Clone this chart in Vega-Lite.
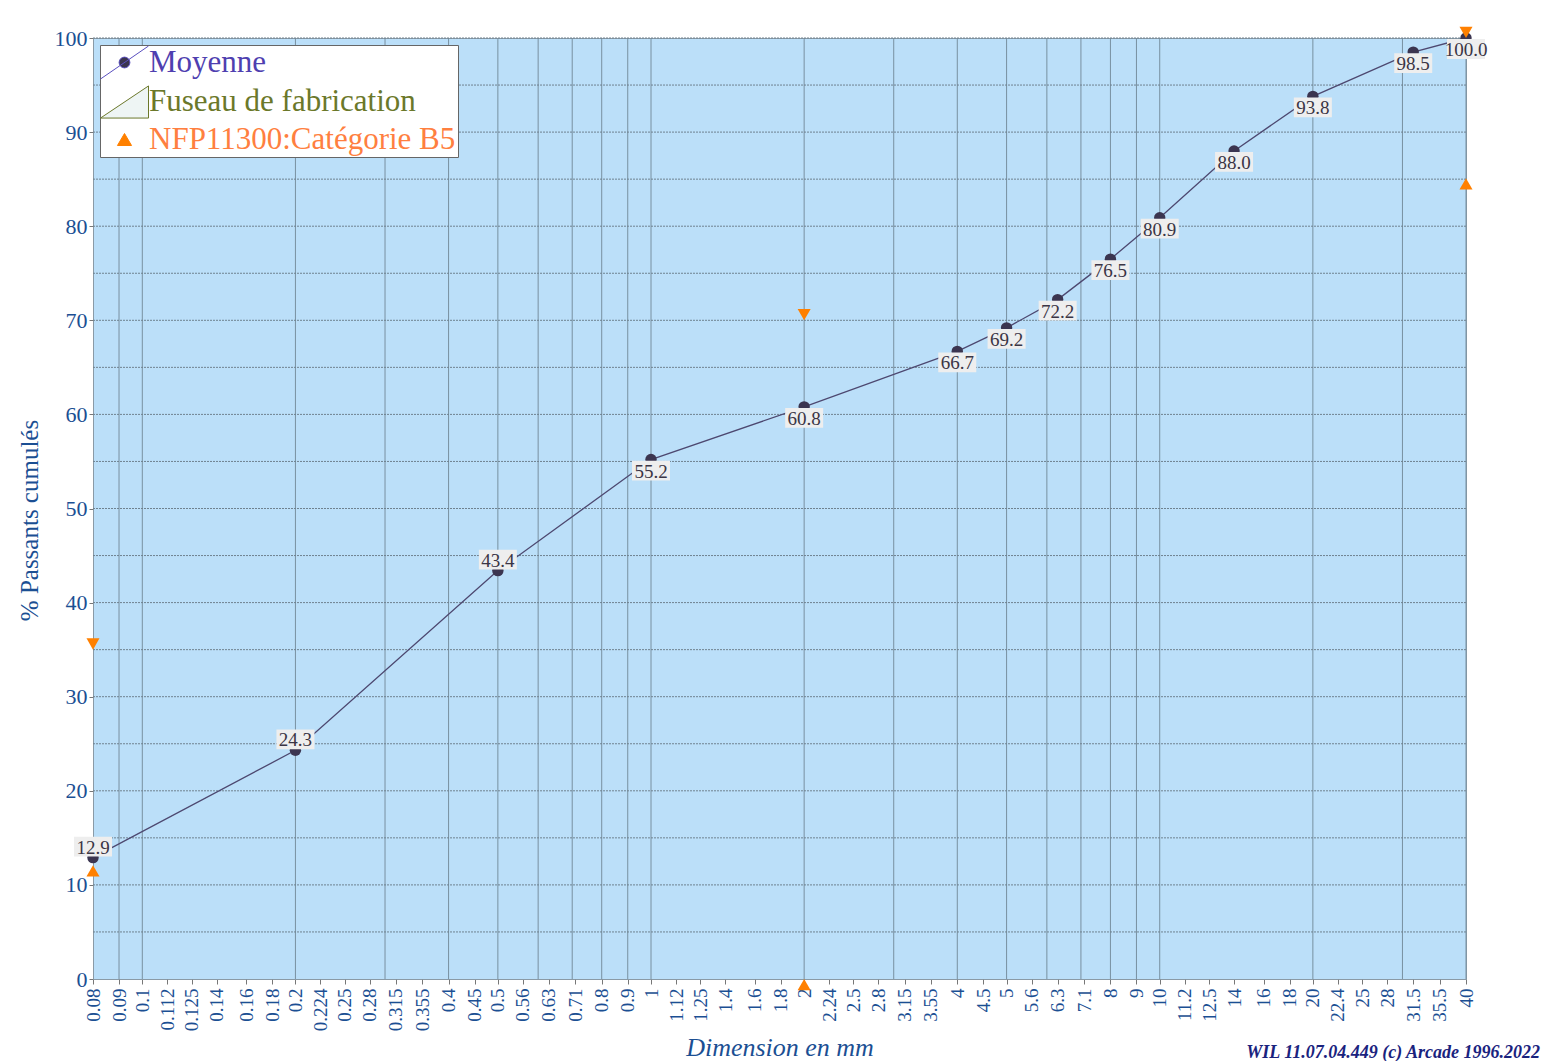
{
  "$schema": "https://vega.github.io/schema/vega-lite/v6.json",
  "width": 1373,
  "height": 941,
  "autosize": "none",
  "padding": {"left": 93, "top": 38, "right": 77, "bottom": 82},
  "background": "white",
  "config": {
    "view": {"fill": "#bbdff9", "stroke": "#8a9aa6", "strokeWidth": 1},
    "font": "Liberation Serif"
  },
  "title": {
    "text": "WIL 11.07.04.449 (c) Arcade 1996.2022",
    "orient": "bottom",
    "anchor": "end",
    "frame": "group",
    "dx": 74,
    "offset": -17,
    "font": "Liberation Serif",
    "fontSize": 18,
    "fontStyle": "italic",
    "fontWeight": "bold",
    "color": "#1a237e"
  },
  "datasets": {
    "moy": [
      {"d": 0.08, "p": 12.9, "t": "12.9"},
      {"d": 0.2, "p": 24.3, "t": "24.3"},
      {"d": 0.5, "p": 43.4, "t": "43.4"},
      {"d": 1, "p": 55.2, "t": "55.2"},
      {"d": 2, "p": 60.8, "t": "60.8"},
      {"d": 4, "p": 66.7, "t": "66.7"},
      {"d": 5, "p": 69.2, "t": "69.2"},
      {"d": 6.3, "p": 72.2, "t": "72.2"},
      {"d": 8, "p": 76.5, "t": "76.5"},
      {"d": 10, "p": 80.9, "t": "80.9"},
      {"d": 14, "p": 88.0, "t": "88.0"},
      {"d": 20, "p": 93.8, "t": "93.8"},
      {"d": 31.5, "p": 98.5, "t": "98.5"},
      {"d": 40, "p": 100.0, "t": "100.0"}
    ],
    "lower": [
      {"d": 0.08, "p": 11.5},
      {"d": 2, "p": -0.6},
      {"d": 40, "p": 84.5}
    ],
    "upper": [
      {"d": 0.08, "p": 35.6},
      {"d": 2, "p": 70.6},
      {"d": 40, "p": 100.6}
    ],
    "vgrid": [
      {"g": 0.09}, {"g": 0.1}, {"g": 0.2}, {"g": 0.3}, {"g": 0.4}, {"g": 0.5}, {"g": 0.6}, {"g": 0.7}, {"g": 0.8}, {"g": 0.9},
      {"g": 1}, {"g": 2}, {"g": 3}, {"g": 4}, {"g": 5}, {"g": 6}, {"g": 7}, {"g": 8}, {"g": 9},
      {"g": 10}, {"g": 20}, {"g": 30}, {"g": 40}
    ],
    "hgrid": [
      {"h": 5}, {"h": 10}, {"h": 15}, {"h": 20}, {"h": 25}, {"h": 30}, {"h": 35}, {"h": 40}, {"h": 45}, {"h": 50},
      {"h": 55}, {"h": 60}, {"h": 65}, {"h": 70}, {"h": 75}, {"h": 80}, {"h": 85}, {"h": 90}, {"h": 95}, {"h": 100}
    ]
  },
  "layer": [
    {
      "data": {"name": "vgrid"},
      "mark": {"type": "rule", "color": "#7890a0", "strokeWidth": 1},
      "encoding": {
        "x": {
          "field": "g", "type": "quantitative",
          "scale": {"type": "log", "domain": [0.08, 40], "nice": false, "zero": false},
          "axis": {
            "values": [0.08,0.09,0.1,0.112,0.125,0.14,0.16,0.18,0.2,0.224,0.25,0.28,0.315,0.355,0.4,0.45,0.5,0.56,0.63,0.71,0.8,0.9,1,1.12,1.25,1.4,1.6,1.8,2,2.24,2.5,2.8,3.15,3.55,4,4.5,5,5.6,6.3,7.1,8,9,10,11.2,12.5,14,16,18,20,22.4,25,28,31.5,35.5,40],
            "labelExpr": "'' + datum.value",
            "labelAngle": 270,
            "labelOverlap": false,
            "labelFlush": false,
            "labelBound": false,
            "labelFont": "Liberation Serif",
            "labelFontSize": 19,
            "labelColor": "#1b4f93",
            "labelPadding": 4,
            "tickSize": 5,
            "tickColor": "#777777",
            "domainColor": "#8a9aa6",
            "domainDash": [2, 1],
            "grid": false,
            "title": "Dimension en mm",
            "titleFont": "Liberation Serif",
            "titleFontSize": 26,
            "titleFontStyle": "italic",
            "titleFontWeight": "normal",
            "titleColor": "#1b4f93",
            "titlePadding": 4
          }
        }
      }
    },
    {
      "data": {"name": "hgrid"},
      "mark": {"type": "rule", "color": "#6f8290", "strokeWidth": 1, "strokeDash": [2, 1]},
      "encoding": {
        "y": {
          "field": "h", "type": "quantitative",
          "scale": {"domain": [0, 100], "nice": false, "zero": true},
          "axis": {
            "values": [0, 10, 20, 30, 40, 50, 60, 70, 80, 90, 100],
            "labelFont": "Liberation Serif",
            "labelFontSize": 22,
            "labelColor": "#1b4f93",
            "labelPadding": 2,
            "tickSize": 4,
            "tickColor": "#777777",
            "domainColor": "#8a9aa6",
            "domainDash": [2, 1],
            "grid": false,
            "title": "% Passants cumulés",
            "titleFont": "Liberation Serif",
            "titleFontSize": 25,
            "titleFontWeight": "normal",
            "titleColor": "#1b4f93",
            "titlePadding": 12,
            "titleY": 482
          }
        }
      }
    },
    {
      "data": {"name": "moy"},
      "mark": {"type": "line", "color": "#4d4870", "strokeWidth": 1.3},
      "encoding": {
        "x": {"field": "d", "type": "quantitative"},
        "y": {"field": "p", "type": "quantitative"}
      }
    },
    {
      "data": {"name": "moy"},
      "mark": {"type": "point", "shape": "circle", "filled": true, "opacity": 1, "size": 130},
      "encoding": {
        "x": {"field": "d", "type": "quantitative"},
        "y": {"field": "p", "type": "quantitative"},
        "color": {
          "datum": "Moyenne",
          "type": "nominal",
          "scale": {
            "domain": ["Moyenne", "Fuseau de fabrication", "NFP11300:Catégorie B5"],
            "range": ["#3b3550", "#eef5f4", "#ff8000"]
          },
          "legend": {
            "title": null,
            "orient": "top-left",
            "offset": 7,
            "padding": 2,
            "fillColor": "white",
            "strokeColor": "#666666",
            "symbolSize": 900,
            "rowPadding": 2.5,
            "symbolOffset": 7,
            "labelOffset": 9,
            "labelFont": "Liberation Serif",
            "labelFontSize": 31,
            "labelLimit": 600,
            "symbolStrokeWidth": 1,
            "symbolOpacity": 1,
            "symbolType": {"expr": "datum.value === 'Moyenne' ? 'M-1.6,1.1L1.6,-1.1M0.36,0A0.36,0.36 0 1,1 -0.36,0A0.36,0.36 0 1,1 0.36,0' : datum.value === 'Fuseau de fabrication' ? 'M-1.6,1.07L1.6,-1.07L1.6,1.07Z' : 'M0,-0.4L0.47,0.4L-0.47,0.4Z'"},
            "symbolStrokeColor": {"expr": "datum.value === 'Moyenne' ? '#5a4fc0' : datum.value === 'Fuseau de fabrication' ? '#6b782a' : '#ff8000'"},
            "labelColor": {"expr": "datum.value === 'Moyenne' ? '#4f3fb0' : datum.value === 'Fuseau de fabrication' ? '#6b782a' : '#ff7f40'"}
          }
        }
      }
    },
    {
      "data": {"name": "lower"},
      "mark": {"type": "point", "shape": "triangle-up", "filled": true, "opacity": 1, "size": 170, "color": "#ff8000"},
      "encoding": {
        "x": {"field": "d", "type": "quantitative"},
        "y": {"field": "p", "type": "quantitative"}
      }
    },
    {
      "data": {"name": "upper"},
      "mark": {"type": "point", "shape": "triangle-down", "filled": true, "opacity": 1, "size": 170, "color": "#ff8000"},
      "encoding": {
        "x": {"field": "d", "type": "quantitative"},
        "y": {"field": "p", "type": "quantitative"}
      }
    },
    {
      "data": {"name": "moy"},
      "transform": [{"filter": "datum.d < 0.6"}],
      "mark": {"type": "point", "shape": "M-1,-0.52L1,-0.52L1,0.52L-1,0.52Z", "filled": true, "opacity": 1, "size": 1444, "color": "#eeeeee", "yOffset": -11},
      "encoding": {
        "x": {"field": "d", "type": "quantitative"},
        "y": {"field": "p", "type": "quantitative"}
      }
    },
    {
      "data": {"name": "moy"},
      "transform": [{"filter": "datum.d >= 0.6"}],
      "mark": {"type": "point", "shape": "M-1,-0.52L1,-0.52L1,0.52L-1,0.52Z", "filled": true, "opacity": 1, "size": 1444, "color": "#eeeeee", "yOffset": 11},
      "encoding": {
        "x": {"field": "d", "type": "quantitative"},
        "y": {"field": "p", "type": "quantitative"}
      }
    },
    {
      "data": {"name": "moy"},
      "transform": [{"filter": "datum.d < 0.6"}],
      "mark": {"type": "text", "font": "Liberation Serif", "fontSize": 19, "color": "#3a3545", "baseline": "middle", "align": "center", "yOffset": -10},
      "encoding": {
        "x": {"field": "d", "type": "quantitative"},
        "y": {"field": "p", "type": "quantitative"},
        "text": {"field": "t"}
      }
    },
    {
      "data": {"name": "moy"},
      "transform": [{"filter": "datum.d >= 0.6"}],
      "mark": {"type": "text", "font": "Liberation Serif", "fontSize": 19, "color": "#3a3545", "baseline": "middle", "align": "center", "yOffset": 12},
      "encoding": {
        "x": {"field": "d", "type": "quantitative"},
        "y": {"field": "p", "type": "quantitative"},
        "text": {"field": "t"}
      }
    }
  ]
}
